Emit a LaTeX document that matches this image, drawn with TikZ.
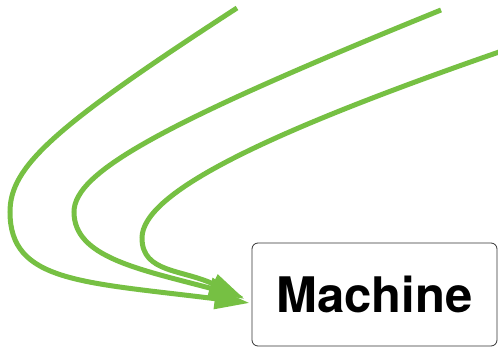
\documentclass[tikz,border=0pt]{standalone}
\usepackage{fontspec}
\newfontfamily\heros{TeX Gyre Heros}
\usetikzlibrary{arrows.meta}
\definecolor{leafgreen}{RGB}{118,192,67}

\begin{document}
\begin{tikzpicture}[
    x=1pt, y=1pt,
    >={Triangle[length=35pt, width=20pt]},
    machbox/.style={draw=black!80, line width=0.8pt, rounded corners=6pt,
                    minimum width=245pt, minimum height=103pt, inner sep=0pt,
                    font=\heros\bfseries\fontsize{49}{54}\selectfont},
    feed/.style   ={->, leafgreen, line width=5pt},
]
\useasboundingbox (0,0) rectangle (498,347);
% target box
\node[machbox] (mach) at (374.5,52.5) {Machine};
% free starts of the three curves
\coordinate (s1) at (237,339);
\coordinate (s2) at (441,337);
\coordinate (s3) at (502,296);
% curves sweeping round into the box
\draw[feed] (s1) .. controls (52,219) and (10,180) .. (10,135)
                 .. controls (10,65) and (81,65) .. ([shift={(-2,-8.5)}]mach.west);
\draw[feed] (s2) .. controls (163,224) and (74,175) .. (74,135)
                 .. controls (74,90) and (138,78) .. ([shift={(-8,-2.5)}]mach.west);
\draw[feed] (s3) .. controls (265,214) and (142,154) .. (142,109)
                 .. controls (142,74) and (182,78) .. ([shift={(-7,-4.5)}]mach.west);
\end{tikzpicture}
\end{document}
